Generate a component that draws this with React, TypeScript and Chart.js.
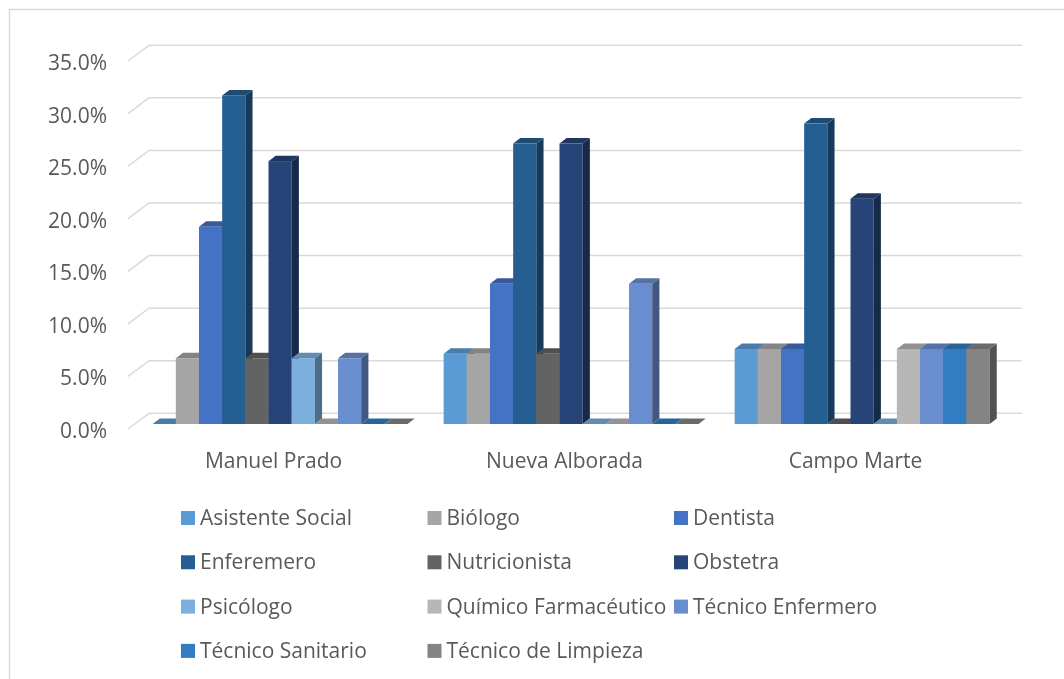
import React, { useEffect, useRef } from 'react';
import { Chart, registerables } from 'chart.js';

Chart.register(...registerables);

// ---- data ----
const categories = ['Manuel Prado', 'Nueva Alborada', 'Campo Marte'];
const seriesNames = [
  'Asistente Social', 'Biólogo', 'Dentista', 'Enferemero', 'Nutricionista', 'Obstetra',
  'Psicólogo', 'Químico Farmacéutico', 'Técnico Enfermero', 'Técnico Sanitario', 'Técnico de Limpieza',
];
const asistenteSocial = [0, 6.67, 7.14];
const biologo = [6.25, 6.67, 7.14];
const dentista = [18.75, 13.33, 7.14];
const enferemero = [31.25, 26.67, 28.57];
const nutricionista = [6.25, 6.67, 0];
const obstetra = [25.0, 26.67, 21.43];
const psicologo = [6.25, 0, 0];
const quimicoFarmaceutico = [0, 0, 7.14];
const tecnicoEnfermero = [6.25, 13.33, 7.14];
const tecnicoSanitario = [0, 0, 7.14];
const tecnicoLimpieza = [0, 0, 7.14];
const seriesValues = [
  asistenteSocial, biologo, dentista, enferemero, nutricionista, obstetra,
  psicologo, quimicoFarmaceutico, tecnicoEnfermero, tecnicoSanitario, tecnicoLimpieza,
];
const seriesColors = [
  '#5B9BD5', '#A5A5A5', '#4472C4', '#255E91', '#636363', '#264478',
  '#7CAFDD', '#B7B7B7', '#698ED0', '#327DC2', '#848484',
];
const yMin = 0;
const yMax = 35;
const yStep = 5;

// ---- style constants ----
const FONT = "'Open Sans', 'Liberation Sans', sans-serif";
const FONT_SIZE = 21;
const TEXT = '#595959';
const GRID = '#D9D9D9';
const FRONT_DX = 6.6, FRONT_DY = -5;
const DEPTH_DX = 7.2, DEPTH_DY = -5.5;
const BACK_DX = 21, BACK_DY = -15.7;
const YLABEL_RIGHT = 107;
const YLABEL_DY = 3;

const fmtPct = (v: number) => Number(v).toFixed(1) + '%';

function shade(hex: string, f: number) {
  const n = parseInt(hex.slice(1), 16);
  const r = Math.round(((n >> 16) & 255) * f);
  const g = Math.round(((n >> 8) & 255) * f);
  const b = Math.round((n & 255) * f);
  return `rgb(${r},${g},${b})`;
}

const borderPlugin = {
  id: 'outerBorder',
  beforeDraw(chart: any) {
    const ctx = chart.ctx;
    ctx.save();
    ctx.strokeStyle = GRID;
    ctx.lineWidth = 1.5;
    ctx.strokeRect(9.5, 9.5, chart.width + 100, chart.height + 100);
    ctx.restore();
  },
};

const threeDPlugin = {
  id: 'threeD',
  beforeDatasetsDraw(chart: any) {
    const ctx = chart.ctx;
    const ys = chart.scales.y;
    const area = chart.chartArea;
    ctx.save();
    // wall gridlines
    ctx.strokeStyle = GRID;
    ctx.lineWidth = 1.5;
    ys.ticks.forEach((t: any) => {
      const py = ys.getPixelForValue(t.value);
      ctx.beginPath();
      ctx.moveTo(area.left, py);
      ctx.lineTo(area.left + BACK_DX, py + BACK_DY);
      ctx.lineTo(area.right + BACK_DX, py + BACK_DY);
      ctx.stroke();
    });
    // y tick labels (slightly lowered, as in the reference)
    ctx.font = `${FONT_SIZE}px ${FONT}`;
    ctx.fillStyle = TEXT;
    ctx.textAlign = 'right';
    ctx.textBaseline = 'middle';
    ys.ticks.forEach((t: any) => {
      const py = ys.getPixelForValue(t.value);
      ctx.fillText(fmtPct(t.value), YLABEL_RIGHT, py + YLABEL_DY);
    });
    const n = chart.data.datasets.length;
    for (let c = 0; c < chart.data.labels.length; c++) {
      for (let d = 0; d < n; d++) {
        const meta = chart.getDatasetMeta(d);
        const el = meta.data[c];
        if (!el) continue;
        const p = el.getProps(['x', 'y', 'base', 'width'], true);
        const col = chart.data.datasets[d].backgroundColor as string;
        const l = p.x - p.width / 2 + FRONT_DX;
        const r = p.x + p.width / 2 + FRONT_DX;
        const t = p.y + FRONT_DY;
        const b = p.base + FRONT_DY;
        // front
        if (b - t > 0.3) {
          ctx.fillStyle = col;
          ctx.fillRect(l, t, r - l, b - t);
        }
        // side
        ctx.fillStyle = shade(col, 0.62);
        ctx.beginPath();
        ctx.moveTo(r, t);
        ctx.lineTo(r + DEPTH_DX, t + DEPTH_DY);
        ctx.lineTo(r + DEPTH_DX, b + DEPTH_DY);
        ctx.lineTo(r, b);
        ctx.closePath();
        ctx.fill();
        // top
        ctx.fillStyle = shade(col, 0.8);
        ctx.beginPath();
        ctx.moveTo(l, t);
        ctx.lineTo(r, t);
        ctx.lineTo(r + DEPTH_DX, t + DEPTH_DY);
        ctx.lineTo(l + DEPTH_DX, t + DEPTH_DY);
        ctx.closePath();
        ctx.fill();
      }
    }
    ctx.restore();
    return false;
  },
};

const LEG_COLS = [181, 427.5, 674];
const LEG_ROW0 = 518;
const LEG_ROW_STEP = 44.3;
const LEG_BOX = 14;

const legendPlugin = {
  id: 'gridLegend',
  afterDraw(chart: any) {
    const ctx = chart.ctx;
    ctx.save();
    ctx.font = `${FONT_SIZE}px ${FONT}`;
    ctx.textBaseline = 'middle';
    ctx.textAlign = 'left';
    chart.data.datasets.forEach((ds: any, i: number) => {
      const col = i % 3;
      const row = Math.floor(i / 3);
      const x = LEG_COLS[col];
      const y = LEG_ROW0 + row * LEG_ROW_STEP;
      ctx.fillStyle = ds.backgroundColor;
      ctx.fillRect(x, y - LEG_BOX / 2, LEG_BOX, LEG_BOX);
      ctx.fillStyle = TEXT;
      ctx.fillText(ds.label, x + 19, y + 1);
    });
    ctx.restore();
  },
};

export default function App() {
  const ref = useRef<HTMLCanvasElement>(null);
  useEffect(() => {
    document.body.style.margin = '0';
    const canvas = ref.current!;
    const chart = new Chart(canvas, {
      type: 'bar',
      data: {
        labels: categories,
        datasets: seriesNames.map((name, i) => ({
          label: name,
          data: seriesValues[i],
          backgroundColor: seriesColors[i],
          categoryPercentage: 0.876,
          barPercentage: 1,
        })),
      },
      options: {
        responsive: false,
        animation: false,
        devicePixelRatio: 1,
        layout: { padding: { top: 61, right: 63, left: 0, bottom: 0 } },
        plugins: { legend: { display: false }, tooltip: { enabled: false } },
        scales: {
          x: {
            type: 'category',
            offset: true,
            grid: { display: false, drawTicks: false },
            border: { display: false },
            ticks: { color: TEXT, font: { family: FONT, size: FONT_SIZE }, padding: 20 },
            afterFit(s: any) { s.height = 250; },
          },
          y: {
            min: yMin,
            max: yMax,
            grid: { display: false, drawTicks: false },
            border: { display: false },
            ticks: {
              display: false,
              stepSize: yStep,
              color: TEXT,
              font: { family: FONT, size: FONT_SIZE },
              padding: 21,
              callback: (v: any) => fmtPct(v),
            },
            afterFit(s: any) { s.width = 128; },
          },
        },
      } as any,
      plugins: [borderPlugin, threeDPlugin, legendPlugin],
    });
    return () => chart.destroy();
  }, []);
  return (
    <div style={{ width: 1064, height: 679 }}>
      <canvas ref={ref} width={1064} height={679} style={{ display: 'block' }} />
    </div>
  );
}
